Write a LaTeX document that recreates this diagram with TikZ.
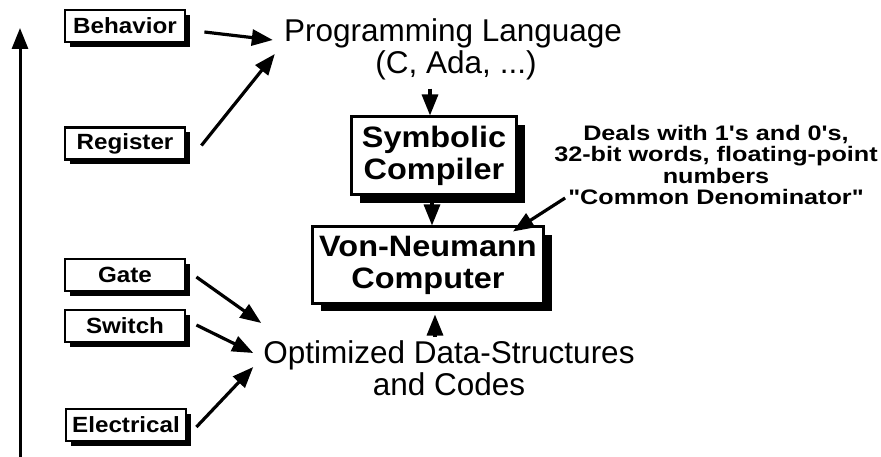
\documentclass[tikz,border=0pt]{standalone}
\usepackage{fontspec}
\setmainfont{Liberation Sans}
\newfontfamily\labelfont[FakeStretch=1.1]{Liberation Sans Bold}
\newfontfamily\notefont[FakeStretch=1.2]{Liberation Sans Bold}
\usetikzlibrary{arrows.meta,shadows,calc}

\begin{document}
\begin{tikzpicture}[x=1pt,y=-1pt,
  conn/.style={line width=3.2pt,-{Triangle[length=21pt,width=16pt]}},
  levelbox/.style={draw,line width=2.8pt,fill=white,inner sep=0pt,
    minimum width=120pt,minimum height=32pt,
    font=\labelfont\fontsize{22}{24}\selectfont,
    drop shadow={fill=black,opacity=1,shadow xshift=5pt,shadow yshift=-5pt}},
  stagebox/.style={draw,line width=3pt,fill=white,inner sep=0pt,align=center,
    font=\labelfont\fontsize{29.5}{32}\selectfont,
    drop shadow={fill=black,opacity=1,shadow xshift=8pt,shadow yshift=-8pt}},
  bigtext/.style={inner sep=0pt,font=\fontsize{31.5}{32}\selectfont},
  notetext/.style={inner sep=0pt,align=center,font=\notefont\fontsize{21}{21.5}\selectfont}]

\useasboundingbox (0,0) rectangle (881,457);

% abstraction levels
\node[levelbox] (beh)  at (125,26)    {Behavior};
\node[levelbox] (reg)  at (125,143.5) {Register};
\node[levelbox] (gate) at (125,275)   {Gate};
\node[levelbox] (sw)   at (125,326)   {Switch};
\node[levelbox] (elec) at (126,425)   {Electrical};

% level axis
\coordinate (axbot) at (20,457);
\coordinate (axtop) at (20,28);
\draw[conn,line width=3pt] (axbot) -- (axtop);

% main flow
\node[bigtext,anchor=base] (pl)   at (453,42) {Programming Language};
\node[bigtext,anchor=base] (lang) at (456,74) {(C, Ada, ...)};
\node[stagebox,minimum width=165pt,minimum height=78pt] (sym) at (434,156) {Symbolic\\Compiler};
\node[stagebox,minimum width=231pt,minimum height=76pt] (vn)  at (428,265) {Von-Neumann\\Computer};
\node[bigtext,anchor=base] (opt)   at (449,363) {Optimized Data-Structures};
\node[bigtext,anchor=base] (codes) at (449,395) {and Codes};

\node[notetext] (note) at (716,165)
  {Deals with 1's and 0's,\\32-bit words, floating-point\\numbers\\"Common Denominator"};

% connectors
\draw[conn] ($(beh.east)+(18,6)$) -- ($(pl.base west)+(-11,-2)$);
\draw[conn] ($(reg.east)+(15,2)$) -- ($(pl.base west)+(-9,12)$);
\draw[conn] ($(lang.south)+(-26,8)$) -- ($(sym.north)+(-4,0)$);
\draw[conn] ($(sym.south)+(-2,0)$) -- ($(vn.north)+(4,0)$);
\draw[conn] ($(opt.north)+(-14,-3)$) -- ($(vn.south)+(7,10)$);
\draw[conn] ($(note.west)+(11,33)$) -- ($(vn.north east)+(-32,6)$);
\draw[conn] ($(gate.east)+(10,2)$) -- ($(opt.base west)+(-2,-40)$);
\draw[conn] ($(sw.east)+(10,-1)$) -- ($(opt.base west)+(-10,-10)$);
\draw[conn] ($(elec.east)+(9,2)$) -- ($(opt.base west)+(-10,4)$);
\end{tikzpicture}
\end{document}
